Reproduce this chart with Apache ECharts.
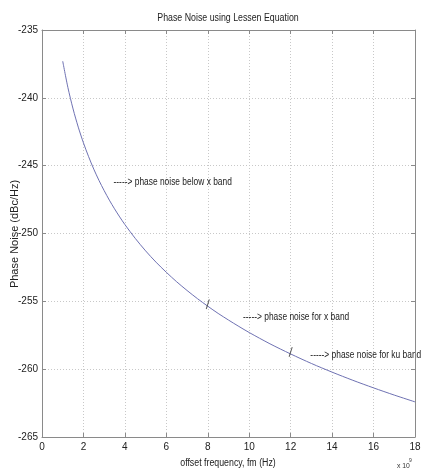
<!DOCTYPE html>
<html>
<head>
<meta charset="utf-8">
<script src="https://cdn.jsdelivr.net/npm/echarts@6/dist/echarts.min.js"></script>
<style>
  html, body { margin: 0; padding: 0; background: #fff; }
  #chart { width: 424px; height: 470px; }
</style>
</head>
<body>
<div id="chart"></div>
<script>
// Offset frequency (x 10^9 Hz) and phase noise (dBc/Hz) samples
const offsetFreq = [1, 1.25, 1.5, 1.75, 2, 2.25, 2.5, 2.75, 3, 3.25, 3.5, 3.75, 4, 4.5, 5, 5.5,
                    6, 6.5, 7, 7.5, 8, 8.5, 9, 9.5, 10, 11, 12, 13, 14, 15, 16, 17, 18];
const phaseNoise = [-237.30, -239.24, -240.82, -242.16, -243.32, -244.34, -245.26, -246.09,
                    -246.84, -247.54, -248.18, -248.78, -249.34, -250.36, -251.28, -252.11,
                    -252.86, -253.56, -254.20, -254.80, -255.36, -255.89, -256.38, -256.85,
                    -257.30, -258.13, -258.88, -259.58, -260.22, -260.82, -261.38, -261.91,
                    -262.41];

// Band boundary markers on the curve
const bandFreq = [8, 12];
const bandNoise = [-255.36, -258.88];

// Annotation texts and anchor positions (data coordinates)
const noteText = ['-----> phase noise below x band', '-----> phase noise for x band', '-----> phase noise for ku band'];
const noteX = [3.45, 9.7, 12.95];
const noteY = [-246.25, -256.2, -259.0];

const FONT = '"Liberation Sans", Arial, sans-serif';
const NARROW = 0.84;   // horizontal squeeze for the condensed annotation lettering

const chart = echarts.init(document.getElementById('chart'), null, { renderer: 'canvas' });

const curve = offsetFreq.map((f, i) => [f, phaseNoise[i]]);
const marks = bandFreq.map((f, i) => [f, bandNoise[i]]);

const gridLine = { show: true, lineStyle: { color: '#c8c8c8', type: [1, 2], width: 1 } };
const boxLine = { show: true, onZero: false, lineStyle: { color: '#8a8a8a', width: 1 } };
const inTick = { show: true, inside: true, length: 4, lineStyle: { color: '#8a8a8a' } };

chart.setOption({
  animation: false,
  backgroundColor: '#fff',
  grid: { left: 42, right: 9, top: 30, bottom: 33, containLabel: false, outerBoundsMode: 'none' },
  xAxis: [
    {
      type: 'value', min: 0, max: 18, interval: 2, position: 'bottom',
      axisLine: boxLine, axisTick: inTick, splitLine: gridLine,
      axisLabel: { fontFamily: FONT, fontSize: 10, color: '#222', margin: 5 }
    },
    {
      type: 'value', min: 0, max: 18, interval: 2, position: 'top',
      axisLine: boxLine, axisTick: inTick, splitLine: { show: false },
      axisLabel: { show: false }
    }
  ],
  yAxis: [
    {
      type: 'value', min: -265, max: -235, interval: 5, position: 'left',
      axisLine: boxLine, axisTick: inTick, splitLine: gridLine,
      axisLabel: { fontFamily: FONT, fontSize: 10, color: '#222', margin: 4 }
    },
    {
      type: 'value', min: -265, max: -235, interval: 5, position: 'right',
      axisLine: boxLine, axisTick: inTick, splitLine: { show: false },
      axisLabel: { show: false }
    }
  ],
  series: [
    {
      type: 'line', data: curve, smooth: 0.3, symbol: 'none',
      lineStyle: { color: '#6f72b3', width: 1 }, z: 3
    },
    {
      type: 'scatter', data: marks, symbol: 'rect', symbolSize: [1, 10], symbolRotate: -18,
      symbolOffset: [0, -2],
      itemStyle: { color: '#333' }, z: 4
    }
  ]
});

// Title, axis captions, exponent and annotations in condensed lettering
const textItems = [
  {
    type: 'text', x: 228, y: 18, scaleX: 0.8,
    style: { text: 'Phase Noise using Lessen Equation', fontFamily: FONT, fontSize: 11,
             fill: '#222', textAlign: 'center', textVerticalAlign: 'middle' }
  },
  {
    type: 'text', x: 228, y: 463, scaleX: 0.88,
    style: { text: 'offset frequency, fm (Hz)', fontFamily: FONT, fontSize: 10,
             fill: '#222', textAlign: 'center', textVerticalAlign: 'middle' }
  },
  {
    type: 'text', x: 15, y: 234, rotation: Math.PI / 2,
    style: { text: 'Phase Noise (dBc/Hz)', fontFamily: FONT, fontSize: 11,
             fill: '#222', textAlign: 'center', textVerticalAlign: 'middle' }
  },
  {
    type: 'text', x: 397, y: 466, scaleX: 0.85,
    style: { text: 'x 10', fontFamily: FONT, fontSize: 8, fill: '#333',
             textAlign: 'left', textVerticalAlign: 'middle' }
  },
  {
    type: 'text', x: 409, y: 461,
    style: { text: '9', fontFamily: FONT, fontSize: 5, fill: '#333',
             textAlign: 'left', textVerticalAlign: 'middle' }
  }
];
noteText.forEach((t, i) => {
  const p = chart.convertToPixel({ xAxisIndex: 0, yAxisIndex: 0 }, [noteX[i], noteY[i]]);
  textItems.push({
    type: 'text', x: p[0], y: p[1], scaleX: NARROW,
    style: { text: t, fontFamily: FONT, fontSize: 10, fill: '#222',
             textAlign: 'left', textVerticalAlign: 'middle' }
  });
});
chart.setOption({ graphic: textItems });
</script>
</body>
</html>
